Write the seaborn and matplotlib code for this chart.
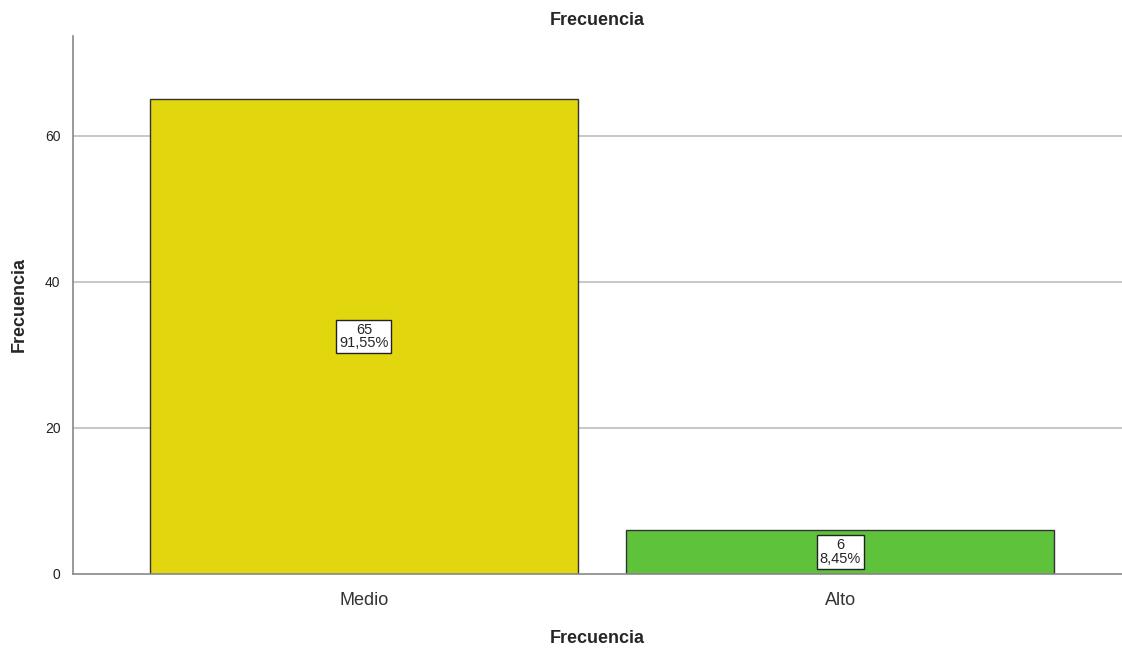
import numpy as np
import matplotlib
matplotlib.use('Agg')
import matplotlib.pyplot as plt
import pandas as pd
import seaborn as sns

# データ
categories = ['Medio', 'Alto']
counts = [65, 6]
percent_labels = ['91,55%', '8,45%']
bar_colors = ['#E2D70E', '#5EC33B']

df = pd.DataFrame({'nivel': categories, 'frecuencia': counts})

sns.set_style('white')
plt.rcParams['font.family'] = ['Liberation Sans', 'DejaVu Sans']

fig = plt.figure(figsize=(11.22, 6.49), dpi=100)
ax = fig.add_axes([0.065, 0.1156, 0.935, 0.829])

# グリッド線
for yv in [20, 40, 60]:
    ax.axhline(yv, color='#BEBEBE', linewidth=1.2, zorder=0)

sns.barplot(data=df, x='nivel', y='frecuencia', hue='nivel', palette=bar_colors,
            saturation=1, width=0.9, edgecolor='#333333', linewidth=1.0,
            legend=False, ax=ax, zorder=2)

# ラベル
for i, (c, p) in enumerate(zip(counts, percent_labels)):
    ax.text(i, c / 2, f'{c}\n{p}', ha='center', va='center', fontsize=10.5,
            linespacing=0.95, zorder=3,
            bbox=dict(boxstyle='square,pad=0.2', facecolor='white', edgecolor='#222222', linewidth=1.0))

ax.set_xlim(-0.611, 1.592)
ax.set_ylim(0, 73.7)
ax.set_yticks([0, 20, 40, 60])
ax.tick_params(axis='both', length=0)
ax.tick_params(axis='y', labelsize=10, pad=9, labelcolor='#222222')
ax.tick_params(axis='x', labelsize=13, pad=13, labelcolor='#333333')

for s in ['top', 'right']:
    ax.spines[s].set_visible(False)
for s in ['left', 'bottom']:
    ax.spines[s].set_color('#888888')
    ax.spines[s].set_linewidth(1.2)

ax.set_title('Frecuencia', fontsize=13, fontweight='bold', pad=8)
ax.set_xlabel('Frecuencia', fontsize=13, fontweight='bold', labelpad=15)
ax.set_ylabel('Frecuencia', fontsize=13, fontweight='bold', labelpad=12)

fig.savefig('out.png', dpi=100)
